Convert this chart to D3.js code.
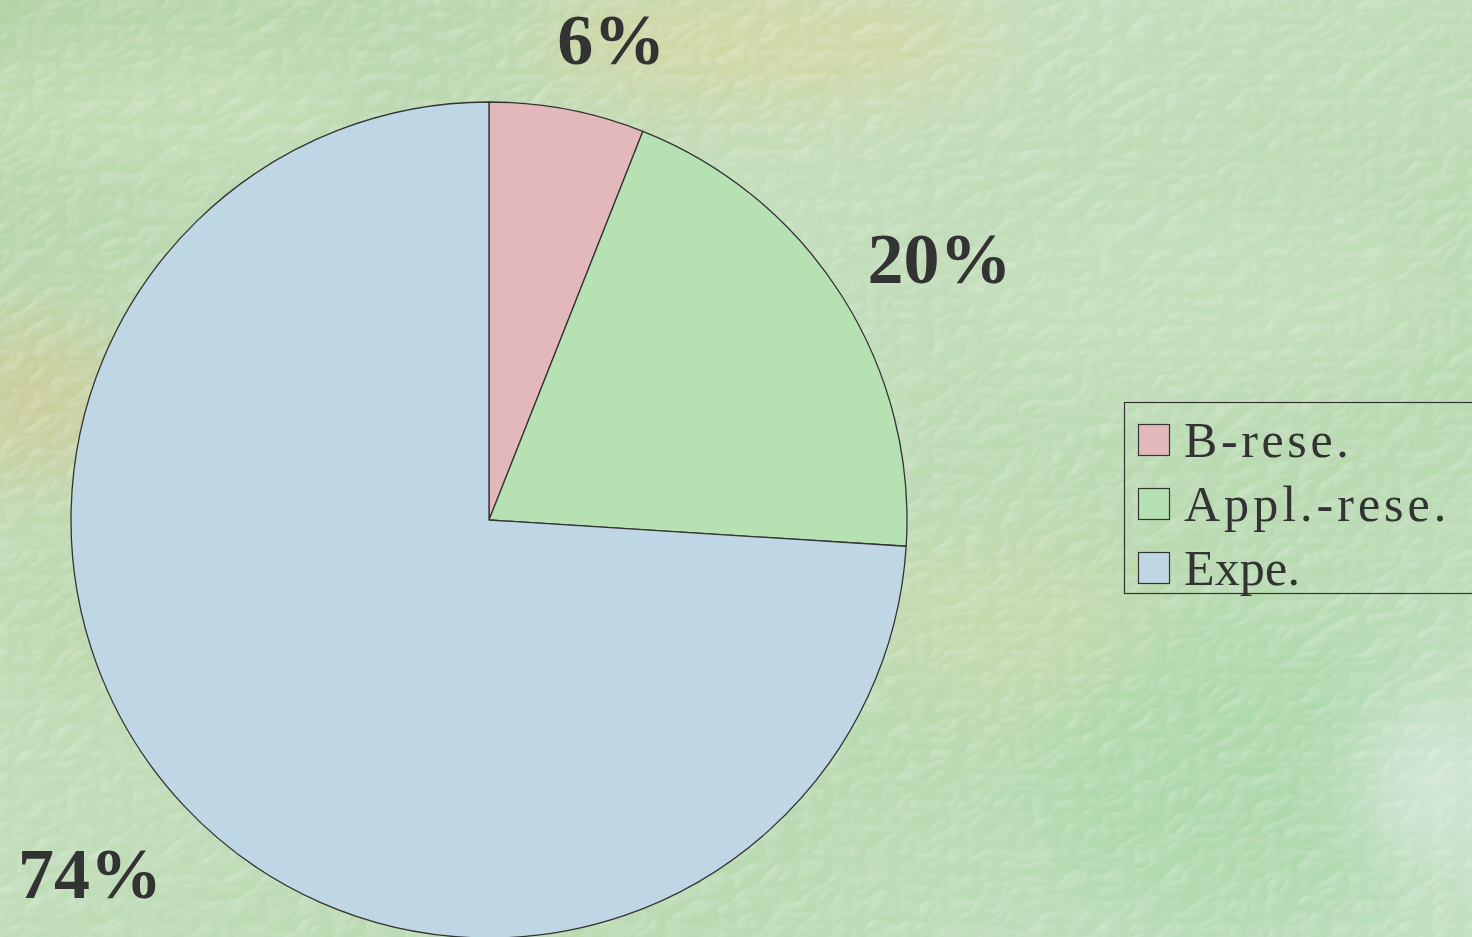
<!DOCTYPE html>
<html>
<head>
<meta charset="utf-8">
<script src="https://cdn.jsdelivr.net/npm/d3@7"></script>
<style>
  html, body { margin: 0; padding: 0; overflow: hidden; }
  svg { display: block; }
</style>
</head>
<body>
<svg id="chart" width="1472" height="937"></svg>
<script>
// data
const categories = ['B-rese.', 'Appl.-rese.', 'Expe.'];
const shares = [6, 20, 74];
const pctLabels = ['6%', '20%', '74%'];
const sliceColors = ['#e2b8ba', '#b5e1b3', '#bfd7e5'];

const W = 1472, H = 937;
const svg = d3.select('#chart');
const defs = svg.append('defs');

// ---------- background: greenish textured paper ----------
const bg = defs.append('linearGradient').attr('id', 'bgGrad')
  .attr('x1', 0).attr('y1', 0).attr('x2', 1).attr('y2', 1);
bg.append('stop').attr('offset', '0%').attr('stop-color', '#b0d4a3');
bg.append('stop').attr('offset', '35%').attr('stop-color', '#c4dfbb');
bg.append('stop').attr('offset', '70%').attr('stop-color', '#b8dbb0');
bg.append('stop').attr('offset', '100%').attr('stop-color', '#c2e1c3');

const blur = defs.append('filter').attr('id', 'softBlur')
  .attr('x', '-50%').attr('y', '-50%').attr('width', '200%').attr('height', '200%');
blur.append('feGaussianBlur').attr('stdDeviation', 40);

const tex = defs.append('filter').attr('id', 'emboss')
  .attr('x', 0).attr('y', 0).attr('width', '100%').attr('height', '100%');
tex.append('feTurbulence').attr('type', 'turbulence')
  .attr('baseFrequency', '0.03 0.04').attr('numOctaves', 2).attr('seed', 7).attr('result', 'noise');
tex.append('feDiffuseLighting').attr('in', 'noise').attr('surfaceScale', 3)
  .attr('diffuseConstant', 1).attr('lighting-color', '#ffffff').attr('result', 'lit')
  .append('feDistantLight').attr('azimuth', 225).attr('elevation', 50);
tex.append('feColorMatrix').attr('in', 'lit').attr('type', 'matrix')
  .attr('values', '1 0 0 0 0  0 1 0 0 0  0 0 1 0 0  1 0 0 0 -0.55');

svg.append('rect').attr('width', W).attr('height', H).attr('fill', 'url(#bgGrad)');

// soft colour patches
const patches = [
  { x: 760, y: 40, rx: 230, ry: 60, c: '#d9d79e', o: 0.75 },
  { x: 30, y: 400, rx: 90, ry: 80, c: '#d3c98f', o: 0.7 },
  { x: 150, y: 110, rx: 220, ry: 60, c: '#cfe2bd', o: 0.6 },
  { x: 1250, y: 780, rx: 220, ry: 150, c: '#a8d8a6', o: 0.7 },
  { x: 1430, y: 780, rx: 60, ry: 80, c: '#e0ece6', o: 0.8 },
  { x: 1000, y: 620, rx: 140, ry: 90, c: '#cfdca8', o: 0.5 },
  { x: 1200, y: 300, rx: 240, ry: 90, c: '#c8e2c0', o: 0.6 },
  { x: 80, y: 620, rx: 90, ry: 90, c: '#b8d7a4', o: 0.6 }
];
svg.append('g').attr('filter', 'url(#softBlur)')
  .selectAll('ellipse').data(patches).join('ellipse')
  .attr('cx', d => d.x).attr('cy', d => d.y)
  .attr('rx', d => d.rx).attr('ry', d => d.ry)
  .attr('fill', d => d.c).attr('opacity', d => d.o);

svg.append('rect').attr('width', W).attr('height', H)
  .attr('filter', 'url(#emboss)').attr('opacity', 0.6);

// ---------- pie ----------
const cx = 489, cy = 520, radius = 418;
const pie = d3.pie().sort(null).value(d => d)(shares);
const arc = d3.arc().innerRadius(0).outerRadius(radius);

const g = svg.append('g').attr('transform', `translate(${cx},${cy})`);
g.selectAll('path').data(pie).join('path')
  .attr('d', arc)
  .attr('fill', (d, i) => sliceColors[i])
  .attr('stroke', '#333')
  .attr('stroke-width', 1.3)
  .attr('stroke-linejoin', 'round');

// percentage labels placed outside each slice
const labelArc = d3.arc().innerRadius(radius + 80).outerRadius(radius + 80);
const nudge = [[29, 33], [30, 30], [-36, 37]];
g.selectAll('text.pct').data(pie).join('text')
  .attr('class', 'pct')
  .attr('x', (d, i) => labelArc.centroid(d)[0] + nudge[i][0])
  .attr('y', (d, i) => labelArc.centroid(d)[1] + nudge[i][1])
  .attr('text-anchor', 'middle')
  .attr('font-family', '"Liberation Serif", "Times New Roman", serif')
  .attr('font-weight', 'bold')
  .attr('font-size', 72)
  .attr('fill', '#333')
  .text((d, i) => pctLabels[i]);

// ---------- legend ----------
const lg = svg.append('g').attr('transform', 'translate(1124,402)');
lg.append('rect').attr('x', 0.5).attr('y', 0.5).attr('width', 360).attr('height', 191)
  .attr('fill', 'none').attr('stroke', '#333').attr('stroke-width', 1.2);

const rowY = d3.scaleBand().domain(categories).range([22, 214]).paddingInner(0);
const item = lg.selectAll('g.item').data(categories).join('g')
  .attr('class', 'item')
  .attr('transform', d => `translate(0,${rowY(d)})`);
item.append('rect').attr('x', 14.5).attr('y', 0.5).attr('width', 31).attr('height', 31)
  .attr('fill', (d, i) => sliceColors[i]).attr('stroke', '#333').attr('stroke-width', 1.2);

// monospaced look: stretch each label to a fixed cell width per character
const cell = 24.4;
item.append('text')
  .attr('x', 60)
  .attr('y', 33)
  .attr('font-family', '"Liberation Serif", "DejaVu Serif", serif')
  .attr('font-size', 50)
  .attr('fill', '#333')
  .attr('textLength', d => (d.length - 0.25) * cell)
  .attr('lengthAdjust', 'spacing')
  .text(d => d);
</script>
</body>
</html>
